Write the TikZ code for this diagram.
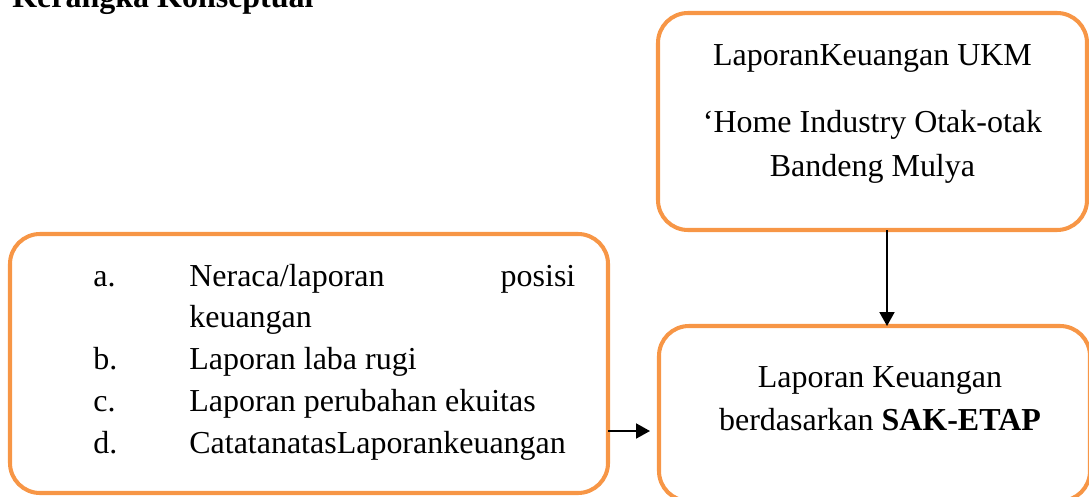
\documentclass[tikz,border=0pt]{standalone}
\usepackage{fontspec}
\setmainfont{Liberation Serif}
\usetikzlibrary{arrows.meta}
\definecolor{boxorange}{HTML}{F79646}

\begin{document}
\begin{tikzpicture}[x=1cm,y=1cm,
  frame/.style={draw=boxorange,line width=2.3pt,rounded corners=0.6cm,outer sep=0pt,inner sep=0pt},
  txt/.style={inner sep=0pt,font=\fontsize{18.2}{24.5}\selectfont},
  link/.style={line width=1.1pt,-{Triangle[length=0.28cm,width=0.3cm]}},
]
\useasboundingbox (0,0) rectangle (21.78,9.92);
\clip (0,0) rectangle (21.78,9.92);
% heading (cut at the top edge)
\node[txt,anchor=base west,font=\fontsize{18.2}{24.5}\selectfont\bfseries] (judul) at (0.24,9.76) {Kerangka Konseptual};
% frames
\node[frame,minimum width=8.58cm,minimum height=4.34cm] (ukm) at (17.45,7.49) {};
\node[frame,minimum width=11.96cm,minimum height=5.18cm] (daftar) at (6.18,2.65) {};
\node[frame,minimum width=8.62cm,minimum height=3.5cm] (hasil) at (17.49,1.65) {};
% top frame text
\node[txt,anchor=base] (ukmtitle) at (17.45,8.60) {LaporanKeuangan UKM};
\node[txt,anchor=base] (ukmname) at (17.45,7.26) {\begin{tabular}[t]{@{}c@{}}‘Home Industry Otak-otak\\Bandeng Mulya\end{tabular}};
% list of statements
\node[txt,anchor=base west,font=\fontsize{18.2}{23.9}\selectfont] (isi) at (1.86,4.20) {%
  \begin{tabular}[t]{@{}p{1.92cm}@{}l@{}}
  a. & \makebox[7.72cm][s]{Neraca/laporan posisi}\\
     & keuangan\\
  b. & Laporan laba rugi\\
  c. & Laporan perubahan ekuitas\\
  d. & CatatanatasLaporankeuangan
  \end{tabular}};
% result frame text
\node[txt,anchor=base] (hasiltxt) at (17.6,2.18) {\begin{tabular}[t]{@{}c@{}}Laporan Keuangan\\berdasarkan \textbf{SAK-ETAP}\end{tabular}};
% arrows
\draw[link] ([xshift=0.29cm]ukm.south) -- ([xshift=0.29cm]ukm.south |- hasil.north);
\draw[link] ([yshift=-1.35cm]daftar.east) -- ([xshift=-0.18cm,yshift=-0.35cm]hasil.west);
\end{tikzpicture}
\end{document}
